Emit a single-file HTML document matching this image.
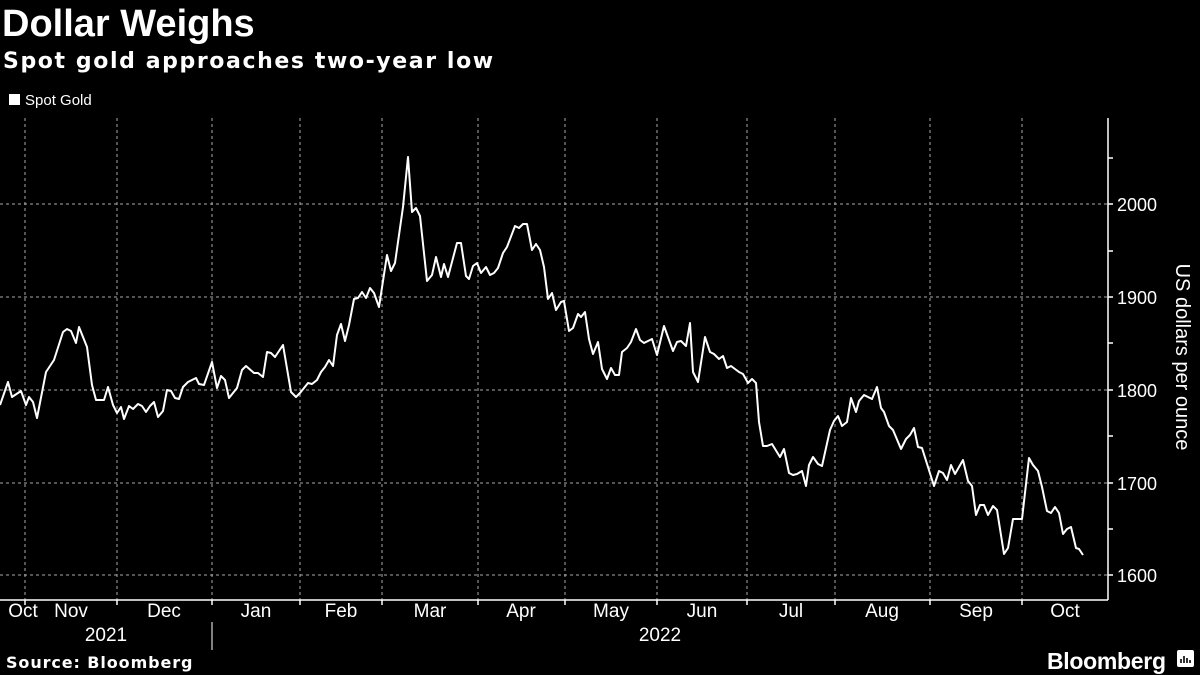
<!DOCTYPE html>
<html><head><meta charset="utf-8"><style>
body{margin:0;background:#000;width:1200px;height:675px;overflow:hidden;font-family:"Liberation Sans",sans-serif;color:#fff}
</style></head><body>
<svg width="1200" height="675" xmlns="http://www.w3.org/2000/svg" style="position:absolute;left:0;top:0">
<rect width="1200" height="675" fill="#000"/>
<text x="2" y="36" font-size="38" font-weight="bold" fill="#fff" font-family="Liberation Sans,sans-serif">Dollar Weighs</text>
<text x="3" y="68" font-size="22" font-weight="bold" fill="#fff" font-family="DejaVu Sans,sans-serif" letter-spacing="1.6">Spot gold approaches two-year low</text>
<rect x="9" y="94" width="11" height="11" fill="#fff"/>
<text x="25" y="105" font-size="15" fill="#fff" font-family="Liberation Sans,sans-serif">Spot Gold</text>
<g stroke="#aaa" stroke-width="1" stroke-dasharray="3,3" fill="none">
<line x1="0" y1="204" x2="1108" y2="204"/><line x1="0" y1="297" x2="1108" y2="297"/><line x1="0" y1="390" x2="1108" y2="390"/><line x1="0" y1="483" x2="1108" y2="483"/><line x1="0" y1="575" x2="1108" y2="575"/>
<line x1="25" y1="118" x2="25" y2="600"/><line x1="117" y1="118" x2="117" y2="600"/><line x1="212" y1="118" x2="212" y2="600"/><line x1="300" y1="118" x2="300" y2="600"/><line x1="382" y1="118" x2="382" y2="600"/><line x1="478" y1="118" x2="478" y2="600"/><line x1="565" y1="118" x2="565" y2="600"/><line x1="657" y1="118" x2="657" y2="600"/><line x1="747" y1="118" x2="747" y2="600"/><line x1="835" y1="118" x2="835" y2="600"/><line x1="930" y1="118" x2="930" y2="600"/><line x1="1022" y1="118" x2="1022" y2="600"/>
</g>
<g stroke="#fff" stroke-width="1.5" fill="none">
<line x1="0" y1="600" x2="1108" y2="600"/><line x1="1108" y1="118" x2="1108" y2="600"/>
<path d="M25 600v5M117 600v5M212 600v5M300 600v5M382 600v5M478 600v5M565 600v5M657 600v5M747 600v5M835 600v5M930 600v5M1022 600v5"/>
<path d="M1108 158h5M1108 204h5M1108 251h5M1108 297h5M1108 343h5M1108 390h5M1108 436h5M1108 483h5M1108 529h5M1108 575h5"/>
<line x1="212" y1="622" x2="212" y2="650" stroke-width="1"/>
</g>
<polyline fill="none" stroke="#fff" stroke-width="2" stroke-linejoin="round" points="0,405 8,382 12,397 21,391 26,405 29,397 33,402 37,418 46,372 54,360 63,332 67,329 71,331 76,343 79,327 87,347 92,385 96,400 104,400 108,387 113,405 117,413 121,407 124,419 129,406 133,409 138,404 142,406 146,412 150,406 154,402 158,417 163,411 167,390 171,391 175,398 179,399 183,387 188,382 192,380 196,378 199,384 204,385 212,362 217,388 221,376 225,380 229,398 237,388 242,370 246,366 254,373 258,373 263,377 267,352 271,353 275,357 283,345 291,392 296,397 300,393 308,383 312,384 317,380 321,372 325,367 329,360 333,366 337,335 341,324 345,341 349,325 354,299 358,298 362,292 366,298 370,288 374,293 379,307 387,255 391,271 395,263 403,207 408,157 412,212 416,208 420,216 427,281 432,275 436,257 441,277 444,264 448,277 457,243 461,243 466,276 469,279 473,266 477,263 481,273 486,267 490,275 494,273 498,268 503,253 507,247 515,226 519,228 523,224 527,224 532,250 536,244 540,250 544,267 548,299 552,293 556,310 561,302 564,301 569,331 573,328 578,314 581,317 585,312 589,339 593,354 598,342 602,369 607,379 611,368 615,375 619,375 622,352 627,348 631,342 636,329 640,340 644,343 652,339 657,355 664,326 673,351 677,342 681,341 686,346 690,323 693,372 698,382 705,337 710,352 714,354 719,359 723,356 727,368 731,366 739,372 743,374 748,383 752,379 756,383 759,422 763,446 767,446 772,444 780,457 784,449 789,473 793,475 797,474 802,471 806,486 809,465 813,457 818,464 822,466 830,430 834,421 838,416 842,426 847,422 851,398 856,412 859,401 864,395 872,399 877,387 881,408 884,412 889,426 893,430 901,449 906,439 910,435 914,428 918,447 922,448 934,486 939,471 943,473 947,480 951,465 955,474 963,460 968,481 972,486 976,515 980,505 984,505 988,515 993,506 997,510 1004,554 1008,548 1013,519 1022,519 1029,458 1033,465 1038,471 1042,487 1047,511 1051,513 1055,507 1059,513 1063,534 1067,529 1071,527 1076,548 1079,549 1083,555"/>
<g font-size="18" fill="#fff" font-family="Liberation Sans,sans-serif">
<text x="1117" y="211">2000</text><text x="1117" y="304">1900</text><text x="1117" y="397">1800</text><text x="1117" y="490">1700</text><text x="1117" y="582">1600</text>
</g>
<text transform="translate(1176,357) rotate(90)" text-anchor="middle" font-size="20" fill="#fff" font-family="Liberation Sans,sans-serif">US dollars per ounce</text>
<g font-size="19" fill="#fff" font-family="Liberation Sans,sans-serif" text-anchor="middle">
<text x="23" y="617">Oct</text><text x="71" y="617">Nov</text><text x="164" y="617">Dec</text><text x="256" y="617">Jan</text><text x="341" y="617">Feb</text><text x="430" y="617">Mar</text><text x="521" y="617">Apr</text><text x="611" y="617">May</text><text x="702" y="617">Jun</text><text x="791" y="617">Jul</text><text x="882" y="617">Aug</text><text x="976" y="617">Sep</text><text x="1065" y="617">Oct</text>
<text x="106" y="641">2021</text><text x="660" y="641">2022</text>
</g>
<text x="6" y="668" font-size="16" font-weight="bold" fill="#fff" font-family="DejaVu Sans,sans-serif" letter-spacing="0.9">Source: Bloomberg</text>
<text x="1047" y="669" font-size="23" font-weight="bold" fill="#fff" font-family="Liberation Sans,sans-serif" letter-spacing="-0.3">Bloomberg</text>
<rect x="1177" y="650" width="17" height="17" rx="2" fill="#fff"/>
<path d="M1181 663v-4M1184 663v-7M1187 663v-5M1190 663v-3" stroke="#000" stroke-width="1.6"/>
</svg>
</body></html>
